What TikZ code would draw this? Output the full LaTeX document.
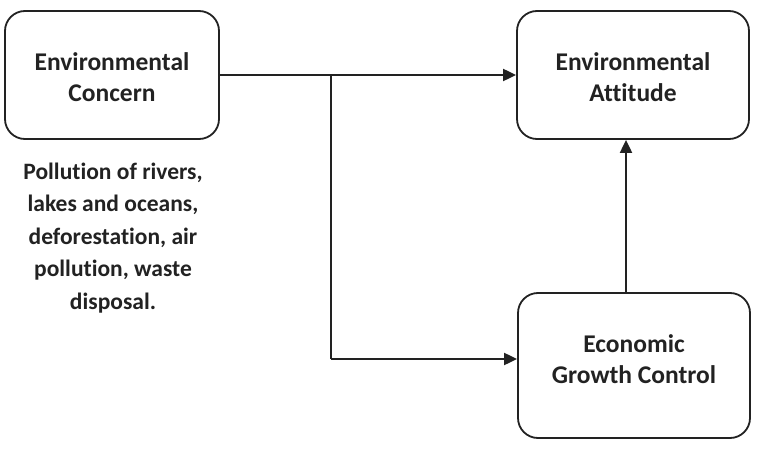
\documentclass[tikz,border=0pt]{standalone}
\usepackage{fontspec}
\setmainfont[RawFeature={-liga}]{Carlito}
\usetikzlibrary{arrows.meta}
\definecolor{ink}{HTML}{222222}
\tikzset{
  box/.style={draw=ink, line width=1.8pt, rounded corners=20pt, fill=white},
  boxtext/.style={align=center, text=ink, font=\fontsize{25.5}{31}\selectfont\bfseries},
  conn/.style={draw=ink, line width=2pt, -{Triangle[length=13pt,width=12pt]}},
  seg/.style={draw=ink, line width=2pt},
  note/.style={align=center, text=ink, font=\fontsize{23.5}{32.5}\selectfont\bfseries}
}
\begin{document}
\begin{tikzpicture}[x=1pt,y=-1pt]
\useasboundingbox (0,0) rectangle (776,457);
\node[box, minimum width=214pt, minimum height=128pt] (ec) at (112,75) {};
\node[boxtext] (ect) at (112,77.5) {Environmental\\Concern};
\node[box, minimum width=232pt, minimum height=128pt] (ea) at (633,75) {};
\node[boxtext] (eat) at (633,77.5) {Environmental\\Attitude};
\node[box, minimum width=232pt, minimum height=145pt] (gc) at (634,365.5) {};
\node[boxtext] (gct) at (634,359) {Economic\\Growth Control};
\node[note] (nt) at (113,238) {Pollution of rivers,\\lakes and oceans,\\deforestation, air\\pollution, waste\\disposal.};
\coordinate (br) at (331,75);
\coordinate (bd) at (331,359);
\draw[conn] (ec.east |- br) -- (ea.west |- br);
\draw[seg] (br) -- (bd);
\draw[conn] (bd) -- (gc.west |- bd);
\draw[conn] (gc.north -| 626,0) -- (ea.south -| 626,0);
\end{tikzpicture}
\end{document}
